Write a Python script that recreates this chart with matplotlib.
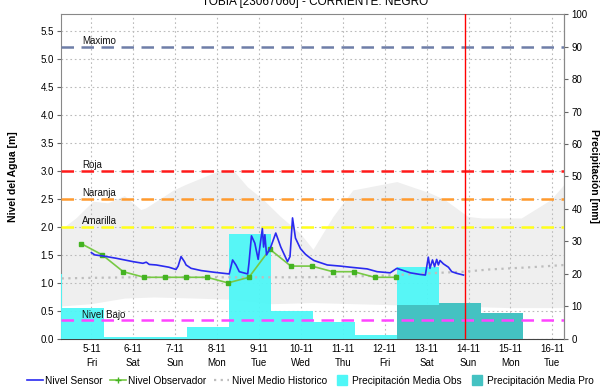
import numpy as np
import matplotlib
matplotlib.use("Agg")
import matplotlib.pyplot as plt
from matplotlib.lines import Line2D

plt.rcParams['font.family'] = ['Liberation Sans', 'DejaVu Sans']

# x values are days of November (fractional)
title = "TOBIA [23067060] - CORRIENTE: NEGRO"
tick_days = [5, 6, 7, 8, 9, 10, 11, 12, 13, 14, 15, 16]
tick_labels = ["5-11\nFri", "6-11\nSat", "7-11\nSun", "8-11\nMon", "9-11\nTue", "10-11\nWed",
               "11-11\nThu", "12-11\nFri", "13-11\nSat", "14-11\nSun", "15-11\nMon", "16-11\nTue"]

# Nivel Sensor [m]
sensor_t = [5.00, 5.08, 5.28, 5.59, 5.99, 6.23, 6.31, 6.38, 6.55, 6.85, 7.02, 7.07, 7.14, 7.22,
            7.26, 7.38, 7.62, 7.93, 8.29, 8.37, 8.45, 8.53, 8.73, 8.76, 8.82, 8.90, 8.98, 9.08,
            9.11, 9.14, 9.18, 9.28, 9.40, 9.52, 9.68, 9.74, 9.80, 9.87, 9.99, 10.11, 10.23,
            10.31, 10.63, 10.94, 11.18, 11.58, 11.82, 12.13, 12.29, 12.37, 12.61, 12.85, 12.97,
            13.04, 13.08, 13.14, 13.19, 13.24, 13.28, 13.32, 13.40, 13.52, 13.60, 13.72, 13.88]
sensor_v = [1.54, 1.50, 1.48, 1.44, 1.38, 1.35, 1.37, 1.33, 1.32, 1.28, 1.24, 1.30, 1.47, 1.38,
            1.32, 1.26, 1.22, 1.19, 1.16, 1.41, 1.32, 1.20, 1.16, 1.35, 1.84, 1.71, 1.42, 1.97,
            1.64, 1.86, 1.50, 1.64, 1.89, 1.64, 1.38, 1.47, 2.16, 1.80, 1.61, 1.51, 1.44,
            1.40, 1.32, 1.30, 1.28, 1.25, 1.20, 1.18, 1.26, 1.24, 1.18, 1.15, 1.14,
            1.46, 1.26, 1.41, 1.29, 1.42, 1.32, 1.40, 1.34, 1.28, 1.20, 1.17, 1.14]

# Nivel Observador [m]
obs_t = [4.76, 5.26, 5.76, 6.26, 6.76, 7.26, 7.76, 8.26, 8.76, 9.26, 9.76, 10.26, 10.76,
         11.26, 11.76, 12.26]
obs_v = [1.7, 1.5, 1.2, 1.1, 1.1, 1.1, 1.1, 1.0, 1.1, 1.6, 1.3, 1.3, 1.2, 1.2, 1.1, 1.1]

# Nivel Medio Historico [m]
mean_t = [4.29, 5.0, 6.0, 7.0, 8.0, 9.0, 10.0, 11.0, 12.0, 13.0, 13.9, 14.5, 15.0, 15.5, 16.29]
mean_v = [1.08, 1.09, 1.10, 1.10, 1.10, 1.10, 1.10, 1.11, 1.13, 1.17, 1.20, 1.24, 1.26, 1.28, 1.32]

# historical range band [m]
band_up_t = [4.29, 4.64, 5.05, 5.40, 5.80, 6.19, 6.31, 6.97, 7.26, 8.01, 8.40, 8.73, 9.11, 9.52,
             9.99, 10.30, 10.78, 11.25, 12.30, 13.08, 13.44, 13.99, 14.32, 15.27, 15.98, 16.29]
band_up_v = [1.95, 2.15, 2.45, 2.42, 2.55, 2.30, 2.33, 2.65, 2.75, 2.98, 3.00, 2.71, 2.48, 2.18,
             1.88, 1.59, 2.18, 2.65, 2.80, 2.60, 2.48, 2.18, 2.15, 2.15, 2.48, 2.75]
band_lo_t = [4.29, 5.0, 5.8, 6.5, 7.5, 8.3, 9.3, 10.3, 11.3, 12.3, 13.3, 14.0, 15.0, 16.29]
band_lo_v = [0.58, 0.62, 0.72, 0.74, 0.72, 0.70, 0.62, 0.64, 0.62, 0.60, 0.60, 0.57, 0.55, 0.55]

# Precipitacion [mm], daily from 07:00
rain_start = [3.29, 4.29, 5.29, 6.29, 7.29, 8.29, 9.29, 10.29, 11.29, 12.29]
rain_obs = [20.0, 9.5, 0.5, 0.6, 3.8, 32.2, 8.5, 5.3, 1.3, 22.2]
pro_start = [12.29, 13.29, 14.29]
rain_pro = [10.3, 11.1, 8.1]

# threshold levels
thr_names = ["Maximo", "Roja", "Naranja", "Amarilla", "Nivel Bajo"]
thr_values = [5.22, 3.0, 2.5, 2.0, 0.33]
thr_colors = ["#6f7ea8", "#ff1a1a", "#ff9a2e", "#ffff1a", "#ff44ff"]

now_day = 13.92

fig = plt.figure(figsize=(6.1, 3.9), dpi=100)
ax = fig.add_axes([0.1, 0.131, 0.9254 - 0.1, 0.964 - 0.131])
ax2 = ax.twinx()
ax3 = ax.twinx()

# background band and grid
ax.fill(band_up_t + band_lo_t[::-1], band_up_v + band_lo_v[::-1], color="#efefef", lw=0, zorder=0.3)
ax.set_axisbelow(True)
ax.grid(True, color="#bbbbbb", linestyle=(0, (1.5, 2.5)), linewidth=0.8)

# rain bars
ax2.bar(rain_start, rain_obs, width=1.0, align="edge", color="#4ff7f7", alpha=0.95, lw=0)
ax2.bar(pro_start, rain_pro, width=1.0, align="edge", color="#44c2c2", lw=0)

# thresholds and levels
for name, val, col in zip(thr_names, thr_values, thr_colors):
    ax3.axhline(val, color=col, lw=1.8, linestyle=(0, (5, 3)))
    ax3.text(4.78, val + 0.01, name, fontsize=7, va="bottom", ha="left", color="#111111")

ax3.plot(mean_t, mean_v, color="#bdbdbd", lw=1.6, linestyle=(0, (1, 2)))
ax3.plot(obs_t, obs_v, color="#77c944", lw=1.2, marker="s", markersize=3,
         markerfacecolor="#44b322", markeredgecolor="#44b322")
ax3.plot(sensor_t, sensor_v, color="#2a2af0", lw=1.2)
ax3.axvline(now_day, color="#ff0000", lw=1.0)

for a in (ax, ax2, ax3):
    a.set_xlim(4.275, 16.29)
ax.set_ylim(0, 5.8)
ax3.set_ylim(0, 5.8)
ax2.set_ylim(0, 100)

ax.set_xticks(tick_days)
ax.set_xticklabels(tick_labels, fontsize=7, linespacing=1.5)
ax.set_yticks(np.arange(0, 5.51, 0.5))
ax.set_yticklabels(["%.1f" % v for v in np.arange(0, 5.51, 0.5)], fontsize=7)
ax2.set_yticks(np.arange(0, 101, 10))
ax2.set_yticklabels([str(v) for v in range(0, 101, 10)], fontsize=7)
ax.tick_params(axis="both", length=3, color="#666666", pad=2)
ax2.tick_params(axis="y", length=3, color="#666666", pad=2)
ax.tick_params(axis="x", length=0, pad=4)
ax3.set_yticks([])

for s in ("left", "top", "right"):
    ax.spines[s].set_color("#888888")
ax.spines["bottom"].set_color("#444444")
ax.spines["bottom"].set_linestyle((0, (1, 1)))
for s in ("left", "top", "bottom"):
    ax2.spines[s].set_visible(False)
ax2.spines["right"].set_color("#888888")
for s in ax3.spines.values():
    s.set_visible(False)

ax.set_ylabel("Nivel del Agua [m]", fontsize=7.5, fontweight="bold", labelpad=16)
ax2.set_ylabel("Precipitación [mm]", fontsize=7.5, fontweight="bold", rotation=270, labelpad=8)

fig.text(0.516, 1 - 5 / 390, title, fontsize=8.5, ha="center", va="baseline")

handles = [
    Line2D([], [], color="#2a2af0", lw=1.2),
    Line2D([], [], color="#77c944", lw=1.2, marker="+", markersize=4, markeredgecolor="#44b322"),
    Line2D([], [], color="#bdbdbd", lw=1.6, linestyle=(0, (1, 2))),
    Line2D([], [], color="#4ff7f7", marker="s", markersize=7, linestyle="none"),
    Line2D([], [], color="#44c2c2", marker="s", markersize=7, linestyle="none"),
]
labels = ["Nivel Sensor", "Nivel Observador", "Nivel Medio Historico",
          "Precipitación Media Obs", "Precipitación Media Pro"]
fig.legend(handles, labels, loc="center left", bbox_to_anchor=(0.045, 0.024), ncol=5,
           frameon=False, fontsize=7.3, handlelength=1.5, handletextpad=0.25,
           columnspacing=0.75, borderpad=0, borderaxespad=0)

fig.savefig("out.png", dpi=100)
